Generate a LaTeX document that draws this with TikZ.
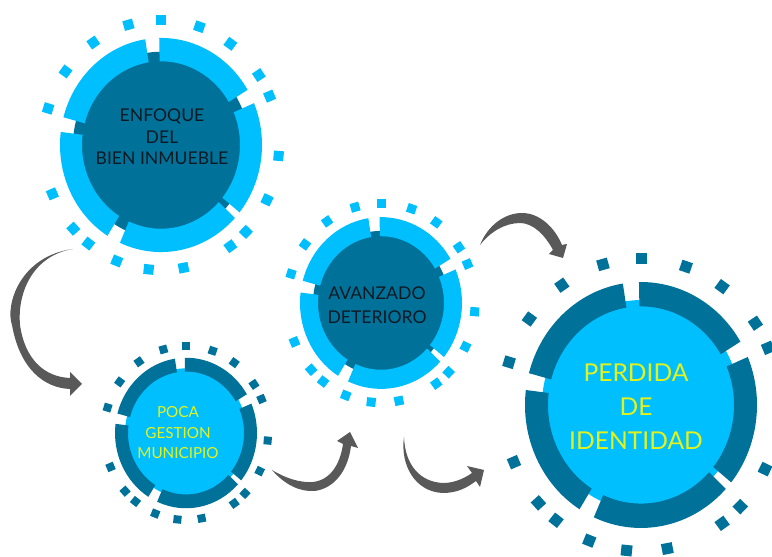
\documentclass[tikz,border=0pt]{standalone}
\usepackage{fontspec}
\setmainfont{Lato}
\usepackage{tikz}
\usepackage{xcolor}
\usetikzlibrary{positioning,calc}

\definecolor{skycyan}{RGB}{0,191,255}
\definecolor{deepteal}{RGB}{0,114,153}
\definecolor{signyellow}{RGB}{228,242,28}
\definecolor{arrowgray}{RGB}{89,89,89}
\definecolor{inktext}{RGB}{15,25,35}

\tikzset{
  sqdot/.style={rectangle,inner sep=0pt,draw=none},
  curl/.style={fill=arrowgray,draw=none},
  label1/.style={align=center,text=inktext,font=\fontsize{15}{18.5}\selectfont},
  label2/.style={align=center,text=signyellow,font=\fontsize{13}{17.5}\selectfont},
}

% #1 centre, #2 ring and dots, #3 disk, #4 disk radius, #5/#6 ring radii, #7 dot radius, #8 dot size
\newcommand{\ringdisk}[8]{%
  \begin{scope}[shift={#1},yscale=1.06]
    \fill[#3] (0,0) circle (#4);
    \foreach \s/\e in {-39/23,31/91,99/165,173/238,246/317}
      \fill[#2] (\s:#6) arc[start angle=\s,end angle=\e,radius=#6]
        -- (\e:#5) arc[start angle=\e,end angle=\s,radius=#5] -- cycle;
    \foreach \a in {90,71,54,34,23,-5,-26,-44,-54,-79,-96,-112,-128,-138,-157,163,144,125,106}
      \node[sqdot,fill=#2,minimum size=#8,rotate=\a] at (\a:#7) {};
  \end{scope}}

\begin{document}
\begin{tikzpicture}[x=0.03cm,y=0.03cm]
    \useasboundingbox (0,0) rectangle (772,557);

    \ringdisk{(161,412)}{skycyan}{deepteal}{88}{79}{101}{118}{0.3cm}
    \ringdisk{(186,124)}{deepteal}{skycyan}{61}{58}{71}{82}{0.24cm}
    \ringdisk{(381,254)}{skycyan}{deepteal}{68}{63}{81}{94}{0.27cm}
    \ringdisk{(641,152)}{deepteal}{skycyan}{99}{93}{116}{138}{0.33cm}

    \node[label1] (enfoque) at (162,420) {ENFOQUE\\DEL\\BIEN INMUEBLE};
    \node[label2] (poca) at (178,124) {POCA\\GESTION\\MUNICIPIO};
    \node[label1,font=\fontsize{15}{20}\selectfont] (avanzado) at (377,252) {AVANZADO\\DETERIORO};
    \node[label2,font=\fontsize{21}{29}\selectfont] (perdida) at (636,150) {PERDIDA\\DE\\IDENTIDAD};

    % curved arrows
    \fill[curl] (73,308) .. controls (20,301) and (5,252) .. (12,232)
        .. controls (20,187) and (45,169) .. (70,168) -- (70,161) -- (82,173) -- (70,185) -- (70,179)
        .. controls (45,180) and (25,197) .. (20,232) .. controls (17,267) and (35,302) .. (73,308) -- cycle;
    \fill[curl] (272,87) .. controls (285,72) and (300,65) .. (315,66)
        .. controls (335,69) and (348,87) .. (351,111) -- (358,109) -- (350,125) -- (337,116) -- (343,113)
        .. controls (340,92) and (330,77) .. (313,75) .. controls (300,74) and (285,79) .. (272,87) -- cycle;
    \fill[curl] (404,120) .. controls (400,92) and (415,65) .. (443,64)
        .. controls (458,64) and (468,70) .. (476,76) -- (480,70) -- (484,87) -- (467,91) -- (472,84)
        .. controls (462,77) and (452,74) .. (443,74) .. controls (420,75) and (405,92) .. (404,120) -- cycle;
    \fill[curl] (480,312) .. controls (488,332) and (505,344) .. (522,344)
        .. controls (540,344) and (555,329) .. (562,312) -- (567,313) -- (563,299) -- (549,303) -- (553,307)
        .. controls (545,322) and (533,334) .. (520,334) .. controls (505,334) and (490,325) .. (480,312) -- cycle;
\end{tikzpicture}
\end{document}
